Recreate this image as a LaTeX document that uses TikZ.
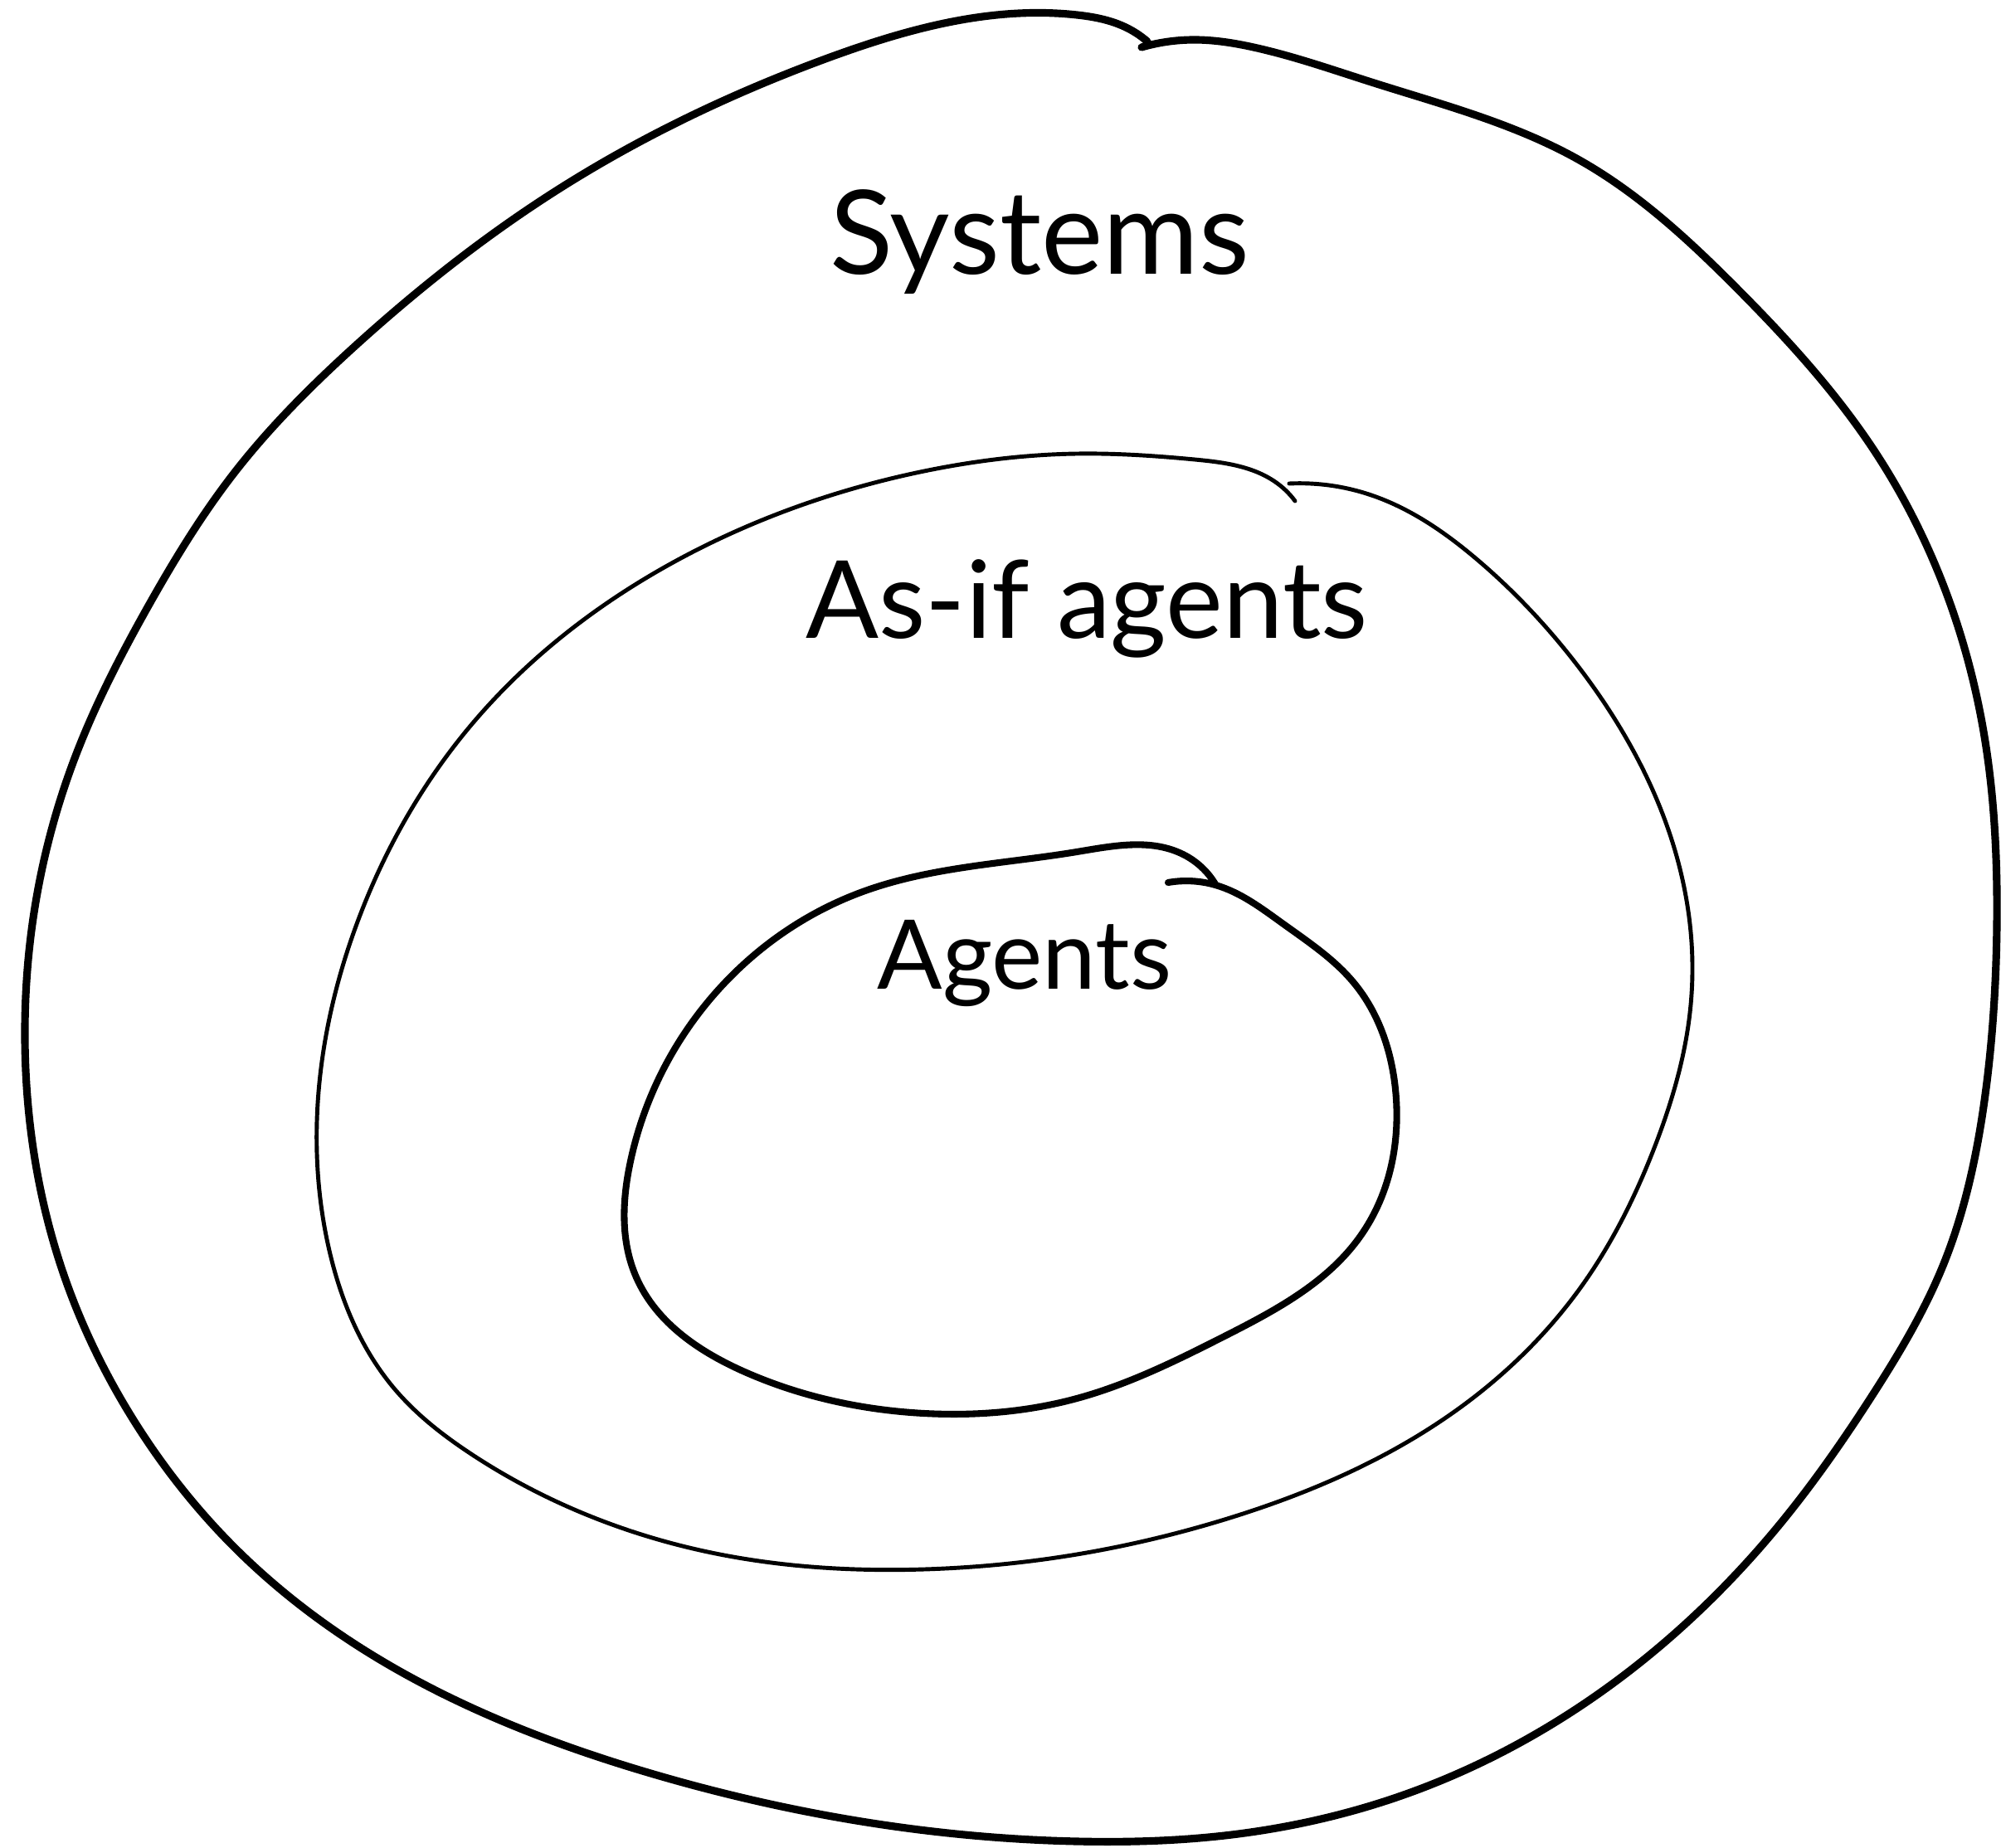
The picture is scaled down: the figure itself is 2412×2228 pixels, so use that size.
\documentclass[tikz,border=0pt]{standalone}
\usepackage{fontspec}
\setmainfont{Lato}
\usetikzlibrary{hobby}
\begin{document}
\begin{tikzpicture}[x=0.01cm,y=-0.01cm,
  ring/.style={line cap=round,line join=round,black,use Hobby shortcut},
  lbl/.style={anchor=base,inner sep=0pt}]
\useasboundingbox[fill=white] (0,0) rectangle (2412,2228);
% outer: Systems
\draw[ring,line width=2.6pt] (1376,57) .. (1440,48) .. (1511,57) .. (1653,99)
 .. (1902,192) .. (2094,348) .. (2257,540) .. (2392,888) .. (2407,1114)
 .. (2392,1327) .. (2342,1526) .. (2257,1682) .. (2150,1832) .. (1902,2059)
 .. (1689,2165) .. (1476,2213) .. (1298,2220) .. (781,2137) .. (426,1981)
 .. (284,1867) .. (156,1704) .. (78,1540) .. (30,1250) .. (39,1114)
 .. (92,909) .. (178,732) .. (284,568) .. (426,419) .. (675,227) .. (995,71)
 .. (1298,18) .. (1355,32) .. (1383,50);
% middle: As-if agents
\draw[ring,line width=1.4pt] (1554,583) .. (1653,597) .. (1781,675) .. (1902,803)
 .. (2037,1114) .. (2037,1221) .. (1994,1384) .. (1909,1547) .. (1760,1697)
 .. (1476,1832) .. (1298,1874) .. (1114,1892) .. (853,1871) .. (568,1753)
 .. (476,1675) .. (398,1512) .. (383,1330) .. (430,1114) .. (568,874)
 .. (817,675) .. (1114,568) .. (1298,547) .. (1440,554) .. (1540,583)
 .. (1561,604);
% inner: Agents
\draw[ring,line width=2.3pt] (1408,1064) .. (1465,1067) .. (1547,1114)
 .. (1632,1185) .. (1682,1313) .. (1640,1490) .. (1476,1611) .. (1298,1686)
 .. (1114,1704) .. (900,1655) .. (767,1540) .. (760,1400) .. (867,1192)
 .. (1040,1075) .. (1298,1027) .. (1426,1030) .. (1465,1066);
\node[lbl] (sys) at (1253,331) {\fontsize{40}{48}\selectfont Systems};
\node[lbl] (asif) at (1310,769) {\fontsize{37}{44}\selectfont As-if agents};
\node[lbl] (ag) at (1235,1192) {\fontsize{33}{40}\selectfont Agents};
\end{tikzpicture}
\end{document}
